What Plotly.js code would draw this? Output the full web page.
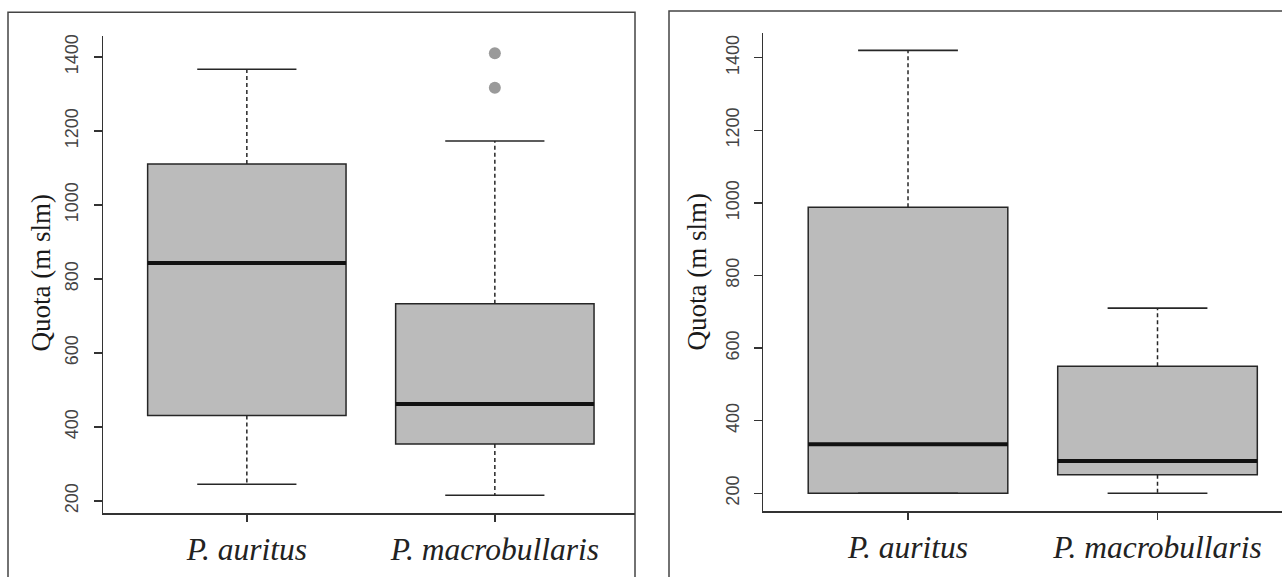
<!DOCTYPE html>
<html>
<head>
<meta charset="utf-8">
<script src="https://cdn.plot.ly/plotly-3.0.1.min.js"></script>
<style>html,body{margin:0;padding:0;background:#fff;}#chart{width:1282px;height:577px;}</style>
</head>
<body>
<div id="chart"></div>
<script>
// ---- data ----
const categories = ["P. auritus", "P. macrobullaris"];
const yTickVals = [200, 400, 600, 800, 1000, 1200, 1400];
const yTitle = "Quota (m slm)";

// Panel A (left)
const leftLower   = [245, 215];
const leftQ1      = [431, 354];
const leftMedian  = [843, 462];
const leftQ3      = [1111, 733];
const leftUpper   = [1367, 1173];
const leftOutX    = ["P. macrobullaris", "P. macrobullaris"];
const leftOutY    = [1410, 1317];

// Panel B (right)
const rightLower  = [200, 200];
const rightQ1     = [200, 251];
const rightMedian = [335, 289];
const rightQ3     = [988, 550];
const rightUpper  = [1420, 710];

// ---- style ----
const boxFill = "#bbbbbb";
const lineCol = "#262626";
const boxW = 0.8, capW = 0.4;

function pos(c) { return categories.indexOf(c) + 1; }

function panelTraces(lower, q1, med, q3, upper, outX, outY, xa, ya) {
  const xs = categories.map((c, i) => i + 1);
  const tr = [];
  tr.push({
    type: "box", x: xs, q1: q1, median: med, q3: q3,
    lowerfence: q1, upperfence: q3, width: boxW, whiskerwidth: 0,
    fillcolor: boxFill, line: {color: lineCol, width: 1.5},
    boxpoints: false, hoverinfo: "skip", xaxis: xa, yaxis: ya
  });
  // dashed whiskers
  let wx = [], wy = [];
  xs.forEach((x, i) => { wx.push(x, x, null, x, x, null); wy.push(q3[i], upper[i], null, q1[i], lower[i], null); });
  tr.push({type: "scatter", mode: "lines", x: wx, y: wy, line: {color: lineCol, width: 1.5, dash: "4px,3px"}, hoverinfo: "skip", xaxis: xa, yaxis: ya});
  // caps
  let cx = [], cy = [];
  xs.forEach((x, i) => {
    cx.push(x - capW / 2, x + capW / 2, null, x - capW / 2, x + capW / 2, null);
    cy.push(upper[i], upper[i], null, lower[i], lower[i], null);
  });
  tr.push({type: "scatter", mode: "lines", x: cx, y: cy, line: {color: lineCol, width: 1.6}, hoverinfo: "skip", xaxis: xa, yaxis: ya});
  // medians
  let mx = [], my = [];
  xs.forEach((x, i) => { mx.push(x - boxW / 2, x + boxW / 2, null); my.push(med[i], med[i], null); });
  tr.push({type: "scatter", mode: "lines", x: mx, y: my, line: {color: "#111111", width: 4}, hoverinfo: "skip", xaxis: xa, yaxis: ya});
  if (outX && outX.length) {
    tr.push({type: "scatter", mode: "markers", x: outX.map(pos), y: outY,
      marker: {color: "#9a9a9a", size: 12}, hoverinfo: "skip", xaxis: xa, yaxis: ya});
  }
  return tr;
}

const data = [].concat(
  panelTraces(leftLower, leftQ1, leftMedian, leftQ3, leftUpper, leftOutX, leftOutY, "x", "y"),
  panelTraces(rightLower, rightQ1, rightMedian, rightQ3, rightUpper, [], [], "x2", "y2")
);

const W = 1282, H = 577;
const xTickFont = {family: "Liberation Serif, Times New Roman, serif", size: 31.5, color: "#222", style: "italic"};
const yTickFont = {family: "Liberation Sans, Arial, sans-serif", size: 18, color: "#444"};
const titleFont = {family: "Liberation Serif, Times New Roman, serif", size: 27, color: "#1a1a1a"};

function xAxis(domain, range, anchor) {
  return {domain: domain, range: range, anchor: anchor, showgrid: false, zeroline: false,
    showline: true, linecolor: "#333", linewidth: 1.5, ticks: "outside", ticklen: 7, tickwidth: 1.5, tickcolor: "#333",
    tickmode: "array", tickvals: categories.map((c, i) => i + 1), ticktext: categories,
    tickfont: xTickFont, ticklabelstandoff: 1, fixedrange: true};
}
function yAxis(domain, range, anchor) {
  return {domain: domain, range: range, anchor: anchor, showgrid: false, zeroline: false,
    showline: true, linecolor: "#333", linewidth: 1.5, ticks: "outside", ticklen: 8, tickwidth: 1.5, tickcolor: "#333",
    tickmode: "array", tickvals: yTickVals, ticktext: yTickVals.map(String), tickangle: -90,
    tickfont: yTickFont, ticklabelstandoff: 8, fixedrange: true};
}

const layout = {
  width: W, height: H, margin: {l: 0, r: 0, t: 0, b: 0},
  paper_bgcolor: "#ffffff", plot_bgcolor: "rgba(0,0,0,0)", showlegend: false,
  xaxis: xAxis([103 / W, 635 / W], [0.42, 0.42 + 532 / 248], "y"),
  yaxis: yAxis([(H - 513) / H, (H - 35.6) / H], [167.2, 1457.8], "x"),
  xaxis2: xAxis([763.3 / W, 1], [0.42, 0.42 + (W - 763.3) / 249.5], "y2"),
  yaxis2: yAxis([(H - 511) / H, (H - 32.7) / H], [151.2, 1468.8], "x2"),
  shapes: [
    {type: "rect", xref: "paper", yref: "paper", x0: 8 / W, x1: 635 / W, y0: -0.1, y1: 1 - 12.3 / H,
      line: {color: "#444", width: 1.5}, fillcolor: "rgba(0,0,0,0)", layer: "below"},
    {type: "rect", xref: "paper", yref: "paper", x0: 669 / W, x1: 1.1, y0: -0.1, y1: 1 - 11 / H,
      line: {color: "#444", width: 1.5}, fillcolor: "rgba(0,0,0,0)", layer: "below"}
  ],
  annotations: [
    {text: yTitle, xref: "paper", yref: "paper", x: 40.5 / W, y: 1 - 273 / H, textangle: -90, showarrow: false,
      xanchor: "center", yanchor: "middle", font: titleFont},
    {text: yTitle, xref: "paper", yref: "paper", x: 696.5 / W, y: 1 - 272 / H, textangle: -90, showarrow: false,
      xanchor: "center", yanchor: "middle", font: titleFont}
  ]
};

Plotly.newPlot("chart", data, layout, {displayModeBar: false, staticPlot: true});
</script>
</body>
</html>
